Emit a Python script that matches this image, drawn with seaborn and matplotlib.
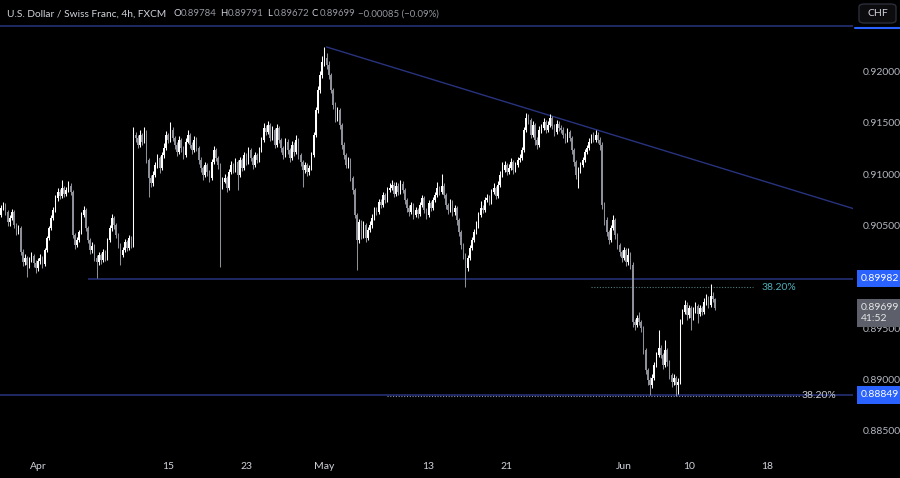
import numpy as np
import pandas as pd
import matplotlib
matplotlib.use("Agg")
import matplotlib.pyplot as plt
import seaborn as sns
from matplotlib.patches import FancyBboxPatch

# USD/CHF 4h candles (first bar = 2024-03-27)
START_DATE = "2024-03-27"
BARS_PER_DAY = 6
FIRST_OPEN = 0.90560

closes = [
    0.90603, 0.90671, 0.90700, 0.90632, 0.90534, 0.90573, 0.90632, 0.90505, 0.90437, 0.90476,
    0.90242, 0.90145, 0.90184, 0.90115, 0.90164, 0.90203, 0.90135, 0.90086, 0.90154, 0.90184,
    0.90125, 0.90262, 0.90379, 0.90476, 0.90573, 0.90651, 0.90769, 0.90827, 0.90788, 0.90866,
    0.90807, 0.90847, 0.90886, 0.90827, 0.90408, 0.90310, 0.90359, 0.90437, 0.90603, 0.90651,
    0.90476, 0.90359, 0.90262, 0.90301, 0.90184, 0.90145, 0.90213, 0.90164, 0.90242, 0.90184,
    0.90359, 0.90476, 0.90573, 0.90505, 0.90408, 0.90310, 0.90213, 0.90262, 0.90340, 0.90281,
    0.90379, 0.90310, 0.91383, 0.91354, 0.91286, 0.91383, 0.91315, 0.91412, 0.91139, 0.90964,
    0.90915, 0.90993, 0.91090, 0.91159, 0.91061, 0.91188, 0.91256, 0.91383, 0.91334, 0.91432,
    0.91354, 0.91286, 0.91217, 0.91334, 0.91256, 0.91188, 0.91315, 0.91383, 0.91286, 0.91237,
    0.91334, 0.91256, 0.91139, 0.91061, 0.90993, 0.91090, 0.91022, 0.90964, 0.91120, 0.91237,
    0.91159, 0.91090, 0.90895, 0.90925, 0.90964, 0.90866, 0.91022, 0.91090, 0.91042, 0.91120,
    0.90993, 0.91139, 0.91061, 0.91188, 0.91120, 0.91237, 0.91159, 0.91090, 0.91188, 0.91139,
    0.91237, 0.91334, 0.91451, 0.91412, 0.91480, 0.91354, 0.91432, 0.91286, 0.91451, 0.91334,
    0.91256, 0.91188, 0.91315, 0.91237, 0.91159, 0.91286, 0.91217, 0.91334, 0.91188, 0.91120,
    0.91042, 0.91090, 0.91022, 0.91061, 0.91188, 0.91383, 0.91627, 0.91822, 0.91968, 0.92095,
    0.92134, 0.92065, 0.91968, 0.91822, 0.91675, 0.91549, 0.91627, 0.91480, 0.91286, 0.91188,
    0.91090, 0.91139, 0.90964, 0.90847, 0.90603, 0.90359, 0.90534, 0.90408, 0.90505, 0.90379,
    0.90457, 0.90505, 0.90573, 0.90651, 0.90632, 0.90729, 0.90700, 0.90798, 0.90749, 0.90847,
    0.90866, 0.90895, 0.90808, 0.90886, 0.90827, 0.90905, 0.90847, 0.90749, 0.90671, 0.90632,
    0.90700, 0.90603, 0.90651, 0.90612, 0.90700, 0.90769, 0.90651, 0.90603, 0.90720, 0.90671,
    0.90749, 0.90798, 0.90866, 0.90827, 0.90886, 0.90798, 0.90700, 0.90651, 0.90729, 0.90632,
    0.90671, 0.90554, 0.90437, 0.90310, 0.90213, 0.90086, 0.90184, 0.90281, 0.90359, 0.90437,
    0.90505, 0.90603, 0.90671, 0.90651, 0.90749, 0.90769, 0.90729, 0.90827, 0.90866, 0.90788,
    0.90895, 0.90993, 0.91042, 0.91090, 0.91022, 0.91061, 0.91120, 0.91042, 0.91090, 0.91139,
    0.91159, 0.91237, 0.91432, 0.91549, 0.91529, 0.91383, 0.91480, 0.91334, 0.91286, 0.91432,
    0.91451, 0.91510, 0.91432, 0.91480, 0.91549, 0.91471, 0.91412, 0.91490, 0.91451, 0.91432,
    0.91383, 0.91334, 0.91412, 0.91354, 0.91237, 0.91120, 0.90993, 0.91042, 0.91090, 0.91139,
    0.91217, 0.91256, 0.91315, 0.91354, 0.91334, 0.91383, 0.91334, 0.91286, 0.90700, 0.90554,
    0.90437, 0.90359, 0.90476, 0.90554, 0.90408, 0.90310, 0.90242, 0.90184, 0.90262, 0.90145,
    0.90213, 0.90115, 0.89560, 0.89530, 0.89598, 0.89560, 0.89501, 0.89287, 0.89092, 0.88994,
    0.88945, 0.89013, 0.89140, 0.89238, 0.89306, 0.89238, 0.89140, 0.89287, 0.89170, 0.89043,
    0.88975, 0.89013, 0.88945, 0.88975, 0.89560, 0.89657, 0.89725, 0.89628, 0.89696, 0.89598,
    0.89677, 0.89716, 0.89638, 0.89696, 0.89657, 0.89755, 0.89794, 0.89725, 0.89813, 0.89784,
    0.89699,
]

highs = [
    0.9064, 0.9070, 0.9073, 0.9072, 0.9065, 0.9060, 0.9066, 0.9065, 0.9052, 0.9051,
    0.9050, 0.9027, 0.9022, 0.9020, 0.9019, 0.9024, 0.9022, 0.9016, 0.9018, 0.9022,
    0.9020, 0.9028, 0.9040, 0.9050, 0.9060, 0.9068, 0.9080, 0.9087, 0.9086, 0.9094,
    0.9089, 0.9088, 0.9093, 0.9091, 0.9085, 0.9043, 0.9039, 0.9046, 0.9063, 0.9069,
    0.9067, 0.9050, 0.9038, 0.9034, 0.9032, 0.9021, 0.9024, 0.9023, 0.9027, 0.9026,
    0.9038, 0.9051, 0.9061, 0.9059, 0.9052, 0.9043, 0.9033, 0.9029, 0.9037, 0.9036,
    0.9041, 0.9040, 0.9146, 0.9141, 0.9138, 0.9143, 0.9140, 0.9146, 0.9143, 0.9116,
    0.9099, 0.9103, 0.9112, 0.9120, 0.9118, 0.9122, 0.9130, 0.9142, 0.9140, 0.9151,
    0.9146, 0.9137, 0.9131, 0.9137, 0.9135, 0.9128, 0.9135, 0.9143, 0.9140, 0.9131,
    0.9137, 0.9136, 0.9128, 0.9117, 0.9108, 0.9112, 0.9111, 0.9104, 0.9115, 0.9128,
    0.9126, 0.9118, 0.9111, 0.9097, 0.9100, 0.9098, 0.9105, 0.9113, 0.9111, 0.9116,
    0.9114, 0.9117, 0.9116, 0.9122, 0.9121, 0.9127, 0.9126, 0.9118, 0.9122, 0.9121,
    0.9127, 0.9136, 0.9150, 0.9148, 0.9152, 0.9150, 0.9147, 0.9145, 0.9149, 0.9147,
    0.9135, 0.9128, 0.9135, 0.9134, 0.9126, 0.9132, 0.9131, 0.9138, 0.9135, 0.9121,
    0.9114, 0.9112, 0.9111, 0.9109, 0.9122, 0.9141, 0.9166, 0.9186, 0.9201, 0.9215,
    0.9224, 0.9218, 0.9210, 0.9199, 0.9184, 0.9170, 0.9166, 0.9165, 0.9150, 0.9131,
    0.9121, 0.9117, 0.9116, 0.9098, 0.9087, 0.9062, 0.9056, 0.9055, 0.9054, 0.9052,
    0.9049, 0.9054, 0.9061, 0.9068, 0.9068, 0.9076, 0.9076, 0.9083, 0.9082, 0.9088,
    0.9091, 0.9094, 0.9092, 0.9092, 0.9091, 0.9094, 0.9093, 0.9087, 0.9077, 0.9070,
    0.9073, 0.9072, 0.9068, 0.9067, 0.9073, 0.9080, 0.9079, 0.9067, 0.9075, 0.9074,
    0.9078, 0.9083, 0.9092, 0.9089, 0.9100, 0.9091, 0.9082, 0.9072, 0.9076, 0.9075,
    0.9070, 0.9069, 0.9057, 0.9046, 0.9033, 0.9023, 0.9021, 0.9031, 0.9039, 0.9047,
    0.9054, 0.9063, 0.9074, 0.9070, 0.9078, 0.9081, 0.9080, 0.9086, 0.9091, 0.9089,
    0.9093, 0.9103, 0.9112, 0.9113, 0.9111, 0.9110, 0.9116, 0.9114, 0.9112, 0.9117,
    0.9120, 0.9127, 0.9146, 0.9160, 0.9159, 0.9155, 0.9152, 0.9150, 0.9136, 0.9147,
    0.9149, 0.9155, 0.9153, 0.9152, 0.9159, 0.9157, 0.9149, 0.9153, 0.9152, 0.9148,
    0.9146, 0.9140, 0.9145, 0.9143, 0.9137, 0.9126, 0.9114, 0.9107, 0.9112, 0.9117,
    0.9125, 0.9129, 0.9135, 0.9139, 0.9141, 0.9143, 0.9141, 0.9136, 0.9131, 0.9073,
    0.9058, 0.9046, 0.9051, 0.9060, 0.9057, 0.9043, 0.9033, 0.9026, 0.9029, 0.9028,
    0.9028, 0.9024, 0.9014, 0.8959, 0.8963, 0.8966, 0.8958, 0.8952, 0.8931, 0.8911,
    0.8902, 0.8905, 0.8917, 0.8927, 0.8948, 0.8934, 0.8926, 0.8938, 0.8931, 0.8919,
    0.8906, 0.8905, 0.8903, 0.8901, 0.8959, 0.8969, 0.8977, 0.8975, 0.8973, 0.8972,
    0.8971, 0.8975, 0.8974, 0.8973, 0.8972, 0.8979, 0.8983, 0.8981, 0.8993, 0.8985,
    0.89791,
]

lows = [
    0.9053, 0.9058, 0.9065, 0.9060, 0.9050, 0.9050, 0.9055, 0.9048, 0.9041, 0.9042,
    0.9021, 0.9011, 0.9012, 0.9000, 0.9009, 0.9014, 0.9010, 0.9004, 0.9006, 0.9013,
    0.9009, 0.9011, 0.9024, 0.9036, 0.9046, 0.9055, 0.9063, 0.9074, 0.9076, 0.9077,
    0.9078, 0.9079, 0.9083, 0.9080, 0.9038, 0.9027, 0.9029, 0.9034, 0.9042, 0.9058,
    0.9045, 0.9033, 0.9022, 0.9023, 0.9015, 0.8999, 0.9012, 0.9013, 0.9014, 0.9015,
    0.9016, 0.9034, 0.9045, 0.9047, 0.9038, 0.9028, 0.9012, 0.9019, 0.9024, 0.9025,
    0.9026, 0.9028, 0.9029, 0.9131, 0.9126, 0.9127, 0.9129, 0.9130, 0.9111, 0.9078,
    0.9088, 0.9089, 0.9097, 0.9106, 0.9101, 0.9104, 0.9116, 0.9124, 0.9130, 0.9131,
    0.9132, 0.9125, 0.9118, 0.9120, 0.9122, 0.9115, 0.9117, 0.9130, 0.9126, 0.9120,
    0.9122, 0.9123, 0.9110, 0.9102, 0.9094, 0.9097, 0.9098, 0.9092, 0.9094, 0.9110,
    0.9113, 0.9105, 0.9010, 0.9086, 0.9091, 0.9083, 0.9085, 0.9100, 0.9101, 0.9102,
    0.9085, 0.9097, 0.9103, 0.9104, 0.9109, 0.9110, 0.9113, 0.9105, 0.9107, 0.9111,
    0.9112, 0.9122, 0.9131, 0.9138, 0.9139, 0.9132, 0.9133, 0.9126, 0.9127, 0.9130,
    0.9122, 0.9115, 0.9117, 0.9120, 0.9112, 0.9114, 0.9118, 0.9120, 0.9115, 0.9108,
    0.9088, 0.9101, 0.9098, 0.9099, 0.9104, 0.9117, 0.9136, 0.9160, 0.9179, 0.9194,
    0.9206, 0.9203, 0.9193, 0.9179, 0.9164, 0.9151, 0.9152, 0.9144, 0.9125, 0.9115,
    0.9106, 0.9106, 0.9093, 0.9081, 0.9057, 0.9007, 0.9033, 0.9037, 0.9038, 0.9034,
    0.9036, 0.9044, 0.9048, 0.9055, 0.9060, 0.9061, 0.9067, 0.9068, 0.9072, 0.9073,
    0.9083, 0.9085, 0.9078, 0.9079, 0.9080, 0.9081, 0.9082, 0.9071, 0.9063, 0.9059,
    0.9061, 0.9056, 0.9058, 0.9057, 0.9059, 0.9068, 0.9062, 0.9056, 0.9058, 0.9064,
    0.9065, 0.9073, 0.9078, 0.9080, 0.9081, 0.9077, 0.9066, 0.9061, 0.9063, 0.9059,
    0.9060, 0.9051, 0.9040, 0.9027, 0.9017, 0.8990, 0.9006, 0.9016, 0.9026, 0.9034,
    0.9042, 0.9048, 0.9058, 0.9062, 0.9063, 0.9073, 0.9070, 0.9071, 0.9081, 0.9076,
    0.9077, 0.9088, 0.9097, 0.9102, 0.9099, 0.9100, 0.9104, 0.9100, 0.9102, 0.9107,
    0.9112, 0.9114, 0.9122, 0.9141, 0.9149, 0.9135, 0.9136, 0.9129, 0.9125, 0.9127,
    0.9140, 0.9143, 0.9140, 0.9141, 0.9146, 0.9144, 0.9137, 0.9139, 0.9142, 0.9140,
    0.9135, 0.9130, 0.9131, 0.9132, 0.9120, 0.9108, 0.9095, 0.9087, 0.9101, 0.9107,
    0.9112, 0.9120, 0.9124, 0.9130, 0.9131, 0.9131, 0.9130, 0.9124, 0.9066, 0.9051,
    0.9040, 0.9032, 0.9034, 0.9046, 0.9037, 0.9027, 0.9020, 0.9014, 0.9016, 0.9011,
    0.9012, 0.9008, 0.8951, 0.8948, 0.8951, 0.8953, 0.8946, 0.8925, 0.8905, 0.8895,
    0.8885, 0.8892, 0.8899, 0.8912, 0.8922, 0.8921, 0.8910, 0.8912, 0.8913, 0.8900,
    0.8893, 0.8895, 0.8884, 0.8886, 0.8896, 0.8954, 0.8964, 0.8958, 0.8960, 0.8948,
    0.8958, 0.8965, 0.8955, 0.8962, 0.8963, 0.8964, 0.8973, 0.8970, 0.8971, 0.8975,
    0.89672,
]

tick_dates = ["2024-04-01", "2024-04-15", "2024-04-23", "2024-05-01", "2024-05-13",
              "2024-05-21", "2024-06-03", "2024-06-10", "2024-06-18"]
tick_labels = ["Apr", "15", "23", "May", "13", "21", "Jun", "10", "18"]
price_ticks = [0.885, 0.890, 0.895, 0.900, 0.905, 0.910, 0.915, 0.920]

resistance = 0.89982
support = 0.88849
top_level = 0.92450
fib_upper = 0.89898
fib_lower = 0.88840
trend_x = [151, 394.4]
trend_y = [0.92241, 0.90661]
countdown = "41:52"

# ---- setup ----
sns.set_theme(style="dark", rc={"axes.facecolor": "black", "figure.facecolor": "black",
                                "axes.grid": False})
plt.rcParams['font.family'] = ['Lato', 'DejaVu Sans']

BG = "black"
TXT = "#d1d4dc"
NAVY = "#28337e"
UP = "#ffffff"
DOWN = "#8e9099"

closes = np.array(closes)
highs = np.array(highs)
lows = np.array(lows)
opens = np.concatenate([[FIRST_OPEN], closes[:-1]])
n = len(closes)
x = np.arange(n)

days = pd.bdate_range(START_DATE, periods=70)
bar_day = np.repeat(days, BARS_PER_DAY)
tick_pos = [int(np.argmax(bar_day == pd.Timestamp(d))) for d in tick_dates]

fig = plt.figure(figsize=(9, 4.78), dpi=100)
ax = fig.add_axes([0, 23 / 478, 853 / 900, 455 / 478])
ax.set_facecolor(BG)
for s in ax.spines.values():
    s.set_visible(False)

XMIN, XMAX = 0.49, 393.6
ax.set_xlim(XMIN, XMAX)
ax.set_ylim(0.88263, 0.92699)

# candles
up = closes >= opens
colors = np.where(up, UP, DOWN)
ax.vlines(x, lows, highs, colors=colors, lw=0.75, zorder=3)
body_lo = np.minimum(opens, closes)
body_h = np.maximum(np.abs(closes - opens), 0.00003)
ax.bar(x, body_h, bottom=body_lo, width=0.7, color=colors, linewidth=0, zorder=4)

# drawings
ax.axhline(top_level, color=NAVY, lw=1.1, zorder=2)
ax.hlines(resistance, 41, XMAX, color=NAVY, lw=1.1, zorder=2)
ax.hlines(support, XMIN, XMAX, color=NAVY, lw=1.1, zorder=2)
sns.lineplot(x=trend_x, y=trend_y, ax=ax, color=NAVY, lw=1.0, zorder=2)

ax.hlines(fib_upper, 273, 347.5, color="#4f7c7c", lw=0.8, linestyles=(0, (1, 1.5)), zorder=2)
ax.text(351.5, fib_upper, "38.20%", color="#4fb0bb", fontsize=7.5, va="center", ha="left")
ax.hlines(fib_lower, 179, 369, color="#8891b8", lw=0.8, linestyles=(0, (1, 1.5)), zorder=2.5)
ax.text(370, fib_lower, "38.20%", color="#c9cbd1", fontsize=7.5, va="center", ha="left")

# axes ticks
ax.set_xticks(tick_pos)
ax.set_xticklabels(tick_labels)
ax.yaxis.tick_right()
ax.set_yticks(price_ticks)
ax.set_yticklabels([f"{p:.5f}" for p in price_ticks])
ax.tick_params(axis="x", colors=TXT, labelsize=7.5, length=0, pad=5)
ax.tick_params(axis="y", colors="#b2b5be", labelsize=7.5, length=0, pad=7)
ax.set_xlabel("")
ax.set_ylabel("")

# price labels on the scale
def scale_label(price, text, fc, tc="white"):
    ax.annotate(text, xy=(1.0, price), xycoords=("axes fraction", "data"),
                xytext=(8, 0), textcoords="offset pixels", ha="left", va="center",
                color=tc, fontsize=7.5, annotation_clip=False, zorder=6,
                bbox=dict(boxstyle="square,pad=0.4", fc=fc, ec="none"))

scale_label(resistance, f"{resistance:.5f}", "#2962ff")
scale_label(support, f"{support:.5f}", "#2962ff")
ax.annotate(f"{closes[-1]:.5f}\n{countdown}", xy=(1.0, closes[-1]),
            xycoords=("axes fraction", "data"), xytext=(8, 5), textcoords="offset pixels",
            ha="left", va="top", color="#e6e6e6", fontsize=7.5, linespacing=1.35,
            annotation_clip=False, zorder=6,
            bbox=dict(boxstyle="square,pad=0.4", fc="#5d606b", ec="none"))

# top-right currency button and line on scale
fig.add_artist(plt.Line2D([855 / 900, 1], [1 - 28 / 478] * 2, color="#2962ff", lw=1.5))
btn = FancyBboxPatch((859 / 900, 1 - 23 / 478), 37 / 900, 19 / 478,
                     boxstyle="round,pad=0,rounding_size=0.006", transform=fig.transFigure,
                     fc="#0c0c0e", ec="#2a2e39", lw=1)
fig.add_artist(btn)
fig.text(877.5 / 900, 1 - 13.5 / 478, "CHF", color=TXT, fontsize=7.5, ha="center", va="center")

# header
def htxt(px, s, c, size=6.9):
    fig.text(px / 900, 1 - 14 / 478, s, color=c, fontsize=size, ha="left", va="center")

VAL = "#9598a1"
chg = closes[-1] - closes[-2]
pct = chg / closes[-2] * 100
htxt(7, "U.S. Dollar / Swiss Franc, 4h, FXCM", TXT, 7.3)
htxt(173, "O", TXT)
htxt(181, f"{opens[-1]:.5f}", VAL)
htxt(220, "H", TXT)
htxt(228, f"{highs[-1]:.5f}", VAL)
htxt(267, "L", TXT)
htxt(274, f"{lows[-1]:.5f}", VAL)
htxt(312, "C", TXT)
htxt(320, f"{closes[-1]:.5f}", VAL)
htxt(358, f"{chg:+.5f} ({pct:+.2f}%)".replace("-", "\u2212"), VAL)

fig.savefig("out.png", dpi=100, facecolor=BG)
